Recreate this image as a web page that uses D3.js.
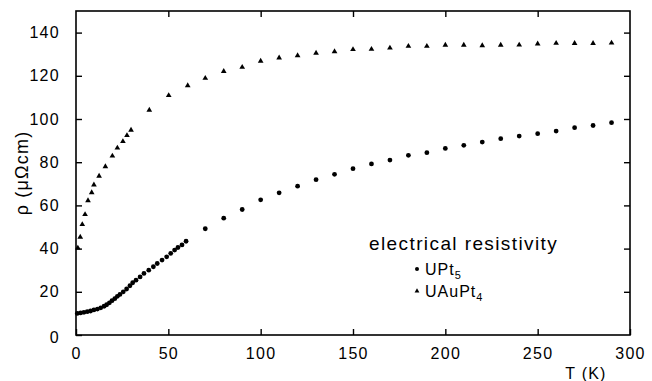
<!DOCTYPE html>
<html><head><meta charset="utf-8">
<script src="https://cdn.jsdelivr.net/npm/d3@7"></script>
<style>
html,body{margin:0;padding:0;background:#fff;}
svg{display:block;font-family:"Liberation Sans",Arial,sans-serif;}
</style></head>
<body>
<svg id="c" width="652" height="381"></svg>
<script>
// ---- data ----
const T_UPt5 = [0.7,2.5,4.3,6.1,7.9,9.7,11.6,13.4,15.2,16.6,18.1,19.5,21,22.4,23.8,25.6,27.4,29.2,30.7,32.5,34.7,36.8,39.4,41.9,44,46.6,49.1,51.3,53.4,55.2,57.4,59.6,
  70,80,90,100,110,120,130,140,150,160,170,180,190,200,210,220,230,240,250,260,270,280,290];
const rho_UPt5 = [10.0,10.2,10.5,10.8,11.1,11.6,12.0,12.6,13.3,14.0,14.9,15.9,16.8,17.9,18.8,20.0,21.3,22.8,24.2,25.4,26.9,28.5,30.0,31.6,33.1,34.7,36.2,37.8,39.3,40.5,41.7,43.4,
  49.2,54.1,58.1,62.6,65.8,68.9,71.9,74.4,77.0,79.2,81.0,83.2,84.4,86.4,87.8,89.3,90.9,92.1,93.2,94.4,96.0,97.0,98.3];
const T_UAuPt4 = [1.0,2.3,3.4,4.9,6.5,8.5,9.7,12.5,15.9,19.7,22.4,25.4,27.6,29.8,39.7,50.2,60.5,
  70,80,90,100,110,120,130,140,150,160,170,180,190,200,210,220,230,240,250,260,270,280,290];
const rho_UAuPt4 = [40.3,45.3,51.2,55.8,62.2,65.9,69.5,73.6,78.0,82.9,86.6,89.6,92.4,94.9,104.1,110.9,115.5,
  118.9,122.1,124.0,126.8,128.3,129.4,130.5,131.2,132.2,132.3,132.9,133.7,133.7,134.2,134.2,134.0,134.2,134.3,134.8,135.1,135.0,135.0,135.2];
const xTicks = [0,50,100,150,200,250,300];
const yTicks = [0,20,40,60,80,100,120,140];
const legendTitle = "electrical resistivity";

// ---- layout ----
const svg = d3.select("#c");
const x = d3.scaleLinear().domain([0,300]).range([76,630]);
const y = d3.scaleLinear().domain([0,150]).range([335,11]);
const tickLen = 6;

// frame
svg.append("rect").attr("x",x(0)).attr("y",y(150))
  .attr("width",x(300)-x(0)).attr("height",y(0)-y(150))
  .attr("fill","none").attr("stroke","#000").attr("stroke-width",1.6);

// axes (ticks inward)
const fmt = d3.format("d");
const axB = svg.append("g").attr("transform",`translate(0,${y(0)})`)
  .call(d3.axisBottom(x).tickValues(xTicks).tickSize(-tickLen).tickPadding(13).tickFormat(fmt));
const axT = svg.append("g").attr("transform",`translate(0,${y(150)})`)
  .call(d3.axisTop(x).tickValues(xTicks.slice(1,-1)).tickSize(-tickLen).tickFormat(""));
const axL = svg.append("g").attr("transform",`translate(${x(0)},0)`)
  .call(d3.axisLeft(y).tickValues(yTicks).tickSize(-tickLen).tickPadding(16).tickFormat(fmt));
const axR = svg.append("g").attr("transform",`translate(${x(300)},0)`)
  .call(d3.axisRight(y).tickValues(yTicks.slice(1)).tickSize(-tickLen).tickFormat(""));
[axB,axT,axL,axR].forEach(a=>{
  a.select(".domain").remove();
  a.selectAll(".tick line").attr("stroke","#000").attr("stroke-width",1.4);
  a.selectAll(".tick text").attr("fill","#000").attr("font-size",16).attr("letter-spacing",1.3)
    .attr("font-family","Liberation Sans, Arial, sans-serif");
});
axL.selectAll(".tick text").filter(d=>d===0).attr("dy","0.45em");

// axis titles
svg.append("text").attr("transform",`translate(28,173) rotate(-90)`)
  .attr("text-anchor","middle").attr("font-size",18).attr("letter-spacing",1.2).attr("fill","#000")
  .text("ρ (μΩcm)");
svg.append("text").attr("x",586).attr("y",379).attr("text-anchor","middle")
  .attr("font-size",16).attr("letter-spacing",1.2).attr("fill","#000").text("T  (K)");

// data marks
svg.append("g").selectAll("circle").data(T_UPt5).join("circle")
  .attr("cx",(d)=>x(d)).attr("cy",(d,i)=>y(rho_UPt5[i])).attr("r",2.4).attr("fill","#000");
const tri = d3.symbol().type(d3.symbolTriangle).size(14);
svg.append("g").selectAll("path").data(T_UAuPt4).join("path")
  .attr("d",tri).attr("fill","#000")
  .attr("transform",(d,i)=>`translate(${x(d)},${y(rho_UAuPt4[i])})`);

// legend
svg.append("text").attr("x",369).attr("y",250).attr("font-size",19)
  .attr("letter-spacing",1.4).attr("fill","#000").text(legendTitle);
svg.append("circle").attr("cx",417).attr("cy",269).attr("r",2).attr("fill","#000");
const l1 = svg.append("text").attr("x",425).attr("y",275).attr("font-size",16).attr("letter-spacing",1).attr("fill","#000");
l1.append("tspan").text("UPt");
l1.append("tspan").attr("font-size",11).attr("dy",4).text("5");
svg.append("path").attr("d",d3.symbol().type(d3.symbolTriangle).size(10)())
  .attr("transform","translate(417,291)").attr("fill","#000");
const l2 = svg.append("text").attr("x",425).attr("y",297).attr("font-size",16).attr("letter-spacing",1).attr("fill","#000");
l2.append("tspan").text("UAuPt");
l2.append("tspan").attr("font-size",11).attr("dy",4).text("4");
</script>
</body></html>
